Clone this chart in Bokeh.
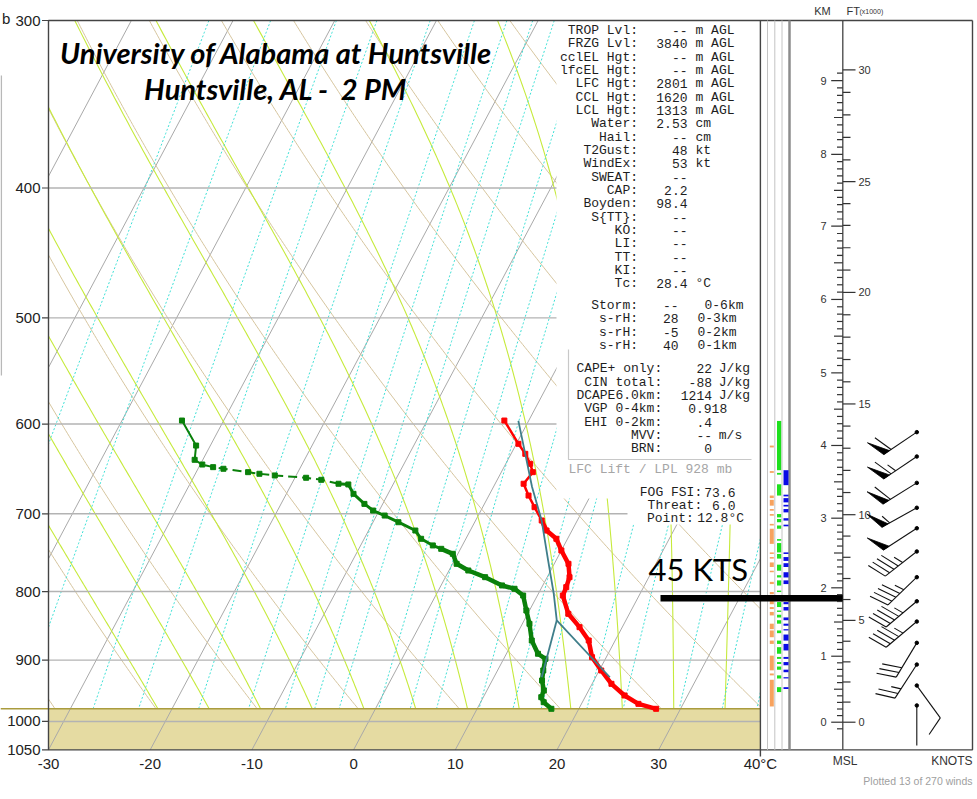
import numpy as np
from bokeh.plotting import figure
from bokeh.models import Range1d, LogScale
from bokeh.core.properties import value
from bokeh.embed import file_html
from bokeh.resources import INLINE

# ---------------- sounding data ----------------
temp_p = [978.5, 970.2, 956.4, 937.4, 916.2, 895.5, 870.2, 850.5, 831.2, 805.5, 794.0, 780.5, 762.8,
          745.5, 730.7, 720.4, 708.1, 692.1, 678.4, 664.8, 651.7, 642.4, 631.5, 620.7, 596.4]
temp_T = [27.6, 25.6, 23.8, 21.9, 20.2, 18.6, 17.4, 15.8, 14.0, 12.5, 12.4, 12.2, 11.4,
          10.0, 8.9, 7.5, 6.5, 5.1, 3.9, 2.8, 3.1, 2.4, 1.4, 0.2, -2.4]
dew_p = [978.5, 967.5, 959.2, 948.2, 932.1, 916.2, 898.0, 890.2, 870.2, 845.6, 826.5, 805.5, 796.2,
         791.7, 780.5, 771.6, 762.8, 749.8, 743.4, 739.1, 730.7, 720.4, 710.2, 702.1, 696.1, 688.2,
         676.4, 665.6, 664.8, 660.3, 658.0, 655.4, 653.5, 651.7, 647.9, 646.1, 643.2, 638.0, 622.6, 596.4]
dew_T = [17.3, 16.2, 15.7, 15.6, 14.9, 14.5, 14.1, 13.1, 11.8, 10.7, 9.7, 8.6, 7.4,
         6.0, 3.9, 1.9, 0.4, -0.5, -1.9, -2.9, -4.4, -5.4, -7.5, -9.2, -10.6, -11.8,
         -13.4, -14.4, -15.4, -17.3, -18.9, -22.1, -23.7, -24.9, -27.5, -28.6, -29.8, -30.8, -31.4, -34.1]
dew_gap = (643.2, 664.8)          # interpolated (dashed) part of the dewpoint trace
parcel_p = [926.9, 840.5, 802.7, 758.0, 708.2, 668.5, 631.6, 596.8]
parcel_T = [21.4, 13.2, 11.5, 9.2, 6.5, 3.8, 1.4, -1.0]
parcel_mix_p = [926.9, 840.5]
parcel_mix_T = [14.7, 13.2]
sfc_p = 978.5

wind_p = [608.4, 634.4, 663.8, 692.8, 717.6, 746.8, 780.5, 813.5, 842.3, 873.7, 906.9, 940.2, 972.9]
wind_dir = [236, 236, 238, 241, 237, 232, 226, 230, 230, 211, 213, 144, 180]
wind_spd = [60, 65, 60, 55, 50, 45, 45, 45, 45, 30, 25, 10, 2]

# ---------------- chart furniture ----------------
pressure_ticks = [300, 400, 500, 600, 700, 800, 900, 1000, 1050]
isobars = [400, 500, 600, 700, 800, 900, 1000]
temp_ticks = [-30, -20, -10, 0, 10, 20, 30, 40]
temp_tick_labels = ["-30", "-20", "-10", "0", "10", "20", "30", "40°C"]
isotherm_T = list(range(-70, 41, 10))
dry_theta_C = list(range(-30, 121, 10))
moist_T1000 = list(range(-20, 36, 5))
mix_ratio = [0.1, 0.2, 0.4, 0.6, 1, 1.5, 2, 2.5, 3, 4, 5, 6, 8, 10, 12, 16, 20, 28, 36, 44]

km_levels = [0, 1, 2, 3, 4, 5, 6, 7, 8, 9]
km_p = [1001.3, 894.0, 794.9, 705.3, 622.5, 549.5, 484.4, 427.1, 377.6, 332.6]
ft_major = [0, 5, 10, 15, 20, 25, 30]

orange_bands = [(622.6, 624.6), (650.5, 652.5), (678.4, 681.4), (683.4, 690.3), (694.3, 696.3), (700.3, 702.3),
                (712.2, 714.2), (718.2, 737.1), (748, 750), (754, 756), (761, 767), (771.9, 773.9),
                (786.8, 789.8), (800.7, 803.7), (812.6, 817.6), (821.6, 824.5), (828.5, 833.5), (845.4, 853.4),
                (855.3, 865.3), (870.3, 875.3), (893.1, 916), (920.9, 923.9), (930.9, 974.6)]
green_bands = [(596.8, 649.5), (652.5, 654.5), (665.4, 678.4), (700.3, 704.3), (706.3, 710.2), (714.2, 718.2),
               (731.1, 733.1), (736.1, 748), (750, 756), (763.9, 771.9), (777.9, 780.9), (784.8, 791.8),
               (798.7, 800.7), (814.6, 821.6), (826.5, 828.5), (832.5, 836.5), (840.4, 845.4), (855.3, 859.3),
               (870.3, 875.3), (880.2, 890.2), (895.1, 898.1), (903, 906), (910, 915), (923.9, 928.9), (942.8, 950.8)]
blue_bands = [(649.5, 666.4), (677.4, 679.4), (681.4, 686.4), (689.3, 691.3), (694.3, 698.3), (705.3, 708.2),
              (713.2, 715.2), (748, 750), (754, 759), (762, 767), (773.9, 780.9), (784.8, 789.8),
              (814.6, 817.6), (821.6, 826.5), (836.4, 840.4), (845.4, 848.4), (853.4, 855.3), (861.3, 870.3),
              (875.3, 885.2), (895.1, 898.1), (903, 908), (914.9, 918.9), (926.8, 928.8), (942.8, 945.8)]

idx_labels = ["TROP Lvl:", "FRZG Lvl:", "cclEL Hgt:", "lfcEL Hgt:", "LFC Hgt:", "CCL Hgt:", "LCL Hgt:",
              "Water:", "Hail:", "T2Gust:", "WindEx:", "SWEAT:", "CAP:", "Boyden:", "S{TT}:", "KO:",
              "LI:", "TT:", "KI:", "Tc:"]
idx_values = ["--", "3840", "--", "--", "2801", "1620", "1313", "2.53", "--", "48", "53", "--", "2.2",
              "98.4", "--", "--", "--", "--", "--", "28.4"]
idx_units = ["m AGL"] * 7 + ["cm", "cm", "kt", "kt", "", "", "", "", "", "", "", "", "°C"]
storm_labels = ["Storm:", "s-rH:", "s-rH:", "s-rH:"]
storm_values = ["--", "28", "-5", "40"]
storm_units = ["0-6km", "0-3km", "0-2km", "0-1km"]
cape_labels = ["CAPE+ only:", "CIN total:", "DCAPE6.0km:", "VGP 0-4km:", "EHI 0-2km:", "MVV:", "BRN:"]
cape_values = ["22", "-88", "1214", "0.918", ".4", "--", "0"]
cape_units = ["J/kg", "J/kg", "J/kg", "", "", "m/s", ""]
fog_labels = ["FOG FSI:", "Threat:", "Point:"]
fog_values = ["73.6", "6.0", "12.8°C"]

# ---------------- geometry ----------------
W, H, MARGIN = 975, 795, 0
PX_LEFT, PX_PER_DEG = 48.0, 10.17
PY_TOP, PX_PER_LN = 20.0, 582.2
SKEW = 30.45


def xd(px):
    return -30.0 + (px - PX_LEFT) / PX_PER_DEG


def pd(py):
    return 300.0 * np.exp((py - PY_TOP) / PX_PER_LN)


def ypx(pp):
    return PY_TOP + PX_PER_LN * np.log(pp / 300.0)


def skx(T, pp):
    return np.asarray(T, float) + SKEW * np.log(1050.0 / np.asarray(pp, float))


p = figure(width=W, height=H, x_range=Range1d(xd(MARGIN), xd(MARGIN + W)),
           y_range=Range1d(pd(MARGIN + H), pd(MARGIN)), y_axis_type="log",
           x_axis_location=None, y_axis_location=None, toolbar_location=None,
           output_backend="svg", min_border=0, title=None)
p.y_scale = LogScale()
p.outline_line_color = None
p.xgrid.visible = False
p.ygrid.visible = False
p.background_fill_color = "white"
p.border_fill_color = "white"


def lb(x0, y0, x1, y1, xmin, xmax, ymin, ymax):
    dx, dy = x1 - x0, y1 - y0
    t0, t1 = 0.0, 1.0
    for pp_, q in ((-dx, x0 - xmin), (dx, xmax - x0), (-dy, y0 - ymin), (dy, ymax - y0)):
        if pp_ == 0:
            if q < 0:
                return None
        else:
            r = q / pp_
            if pp_ < 0:
                t0 = max(t0, r)
            else:
                t1 = min(t1, r)
    if t0 > t1:
        return None
    return t0, t1, x0 + t0 * dx, y0 + t0 * dy, x0 + t1 * dx, y0 + t1 * dy


def clip_line(X, P, xmin, xmax, pmin, pmax):
    L = np.log(np.asarray(P, float))
    X = np.asarray(X, float)
    lmin, lmax = np.log(pmin), np.log(pmax)
    pieces, cur = [], None
    for i in range(len(X) - 1):
        r = lb(X[i], L[i], X[i + 1], L[i + 1], xmin, xmax, lmin, lmax)
        if r is None:
            if cur is not None:
                pieces.append(cur)
                cur = None
            continue
        t0, t1, ax, ay, bx, by = r
        if cur is None or t0 > 0:
            if cur is not None:
                pieces.append(cur)
            cur = ([ax], [ay])
        cur[0].append(bx)
        cur[1].append(by)
        if t1 < 1:
            pieces.append(cur)
            cur = None
    if cur is not None:
        pieces.append(cur)
    return [(list(a), list(np.exp(b))) for a, b in pieces if len(a) > 1]


def add_lines(lines, color, width=1.0, dash="solid", alpha=1.0):
    xs, ys = [], []
    for X, P in lines:
        xs.append(X)
        ys.append(P)
    if xs:
        p.multi_line(xs=xs, ys=ys, line_color=color, line_width=width, line_dash=dash, line_alpha=alpha)


# ground
p.quad(left=-30, right=40, top=sfc_p, bottom=1050, fill_color="#e5dba2", line_color=None)

Pd = np.geomspace(285, 1070, 260)
# isotherms
iso = []
for T in isotherm_T:
    iso += clip_line(skx(np.full(2, T), [285, 1070]), [285, 1070], -30, 40, 300, 1050)
add_lines(iso, "#a9a9a9", 1.0)

# dry adiabats
dry = []
for th in dry_theta_C:
    T = (th + 273.15) * (Pd / 1000.0) ** 0.2857 - 273.15
    dry += clip_line(skx(T, Pd), Pd, -30, 40, 300, sfc_p)
add_lines(dry, "#d6c59e", 1.0)


# moist adiabats (pseudo-adiabatic)
def dTdp(T, pp):
    Tc = T - 273.15
    es = 6.112 * np.exp(17.67 * Tc / (Tc + 243.5))
    rs = 0.622 * es / (pp - es)
    return (287.04 * T + 2.501e6 * rs) / (pp * (1005.7 + 2.501e6 ** 2 * rs * 0.622 / (287.04 * T * T)))


def integ(T0, p0, p1, dp):
    n = int(round(abs(p1 - p0) / abs(dp)))
    T = np.array(T0, float)
    pp = p0
    ps, Ts = [pp], [T.copy()]
    for _ in range(n):
        k1 = dTdp(T, pp)
        k2 = dTdp(T + 0.5 * dp * k1, pp + 0.5 * dp)
        k3 = dTdp(T + 0.5 * dp * k2, pp + 0.5 * dp)
        k4 = dTdp(T + dp * k3, pp + dp)
        T = T + dp * (k1 + 2 * k2 + 2 * k3 + k4) / 6.0
        pp += dp
        ps.append(pp)
        Ts.append(T.copy())
    return np.array(ps), np.array(Ts)


T0 = np.array(moist_T1000, float) + 273.15
pu, Tu = integ(T0, 1000.0, 285.0, -2.5)
pl, Tl = integ(T0, 1000.0, 1070.0, 2.5)
mp = np.concatenate([pl[::-1], pu[1:]])
mT = np.concatenate([Tl[::-1], Tu[1:]], axis=0)
moist = []
for j in range(len(moist_T1000)):
    moist += clip_line(skx(mT[:, j] - 273.15, mp), mp, -30, 40, 300, sfc_p)
add_lines(moist, "#c6ea3c", 1.1)

# mixing ratio lines
mix = []
for w in mix_ratio:
    e = w * Pd / (622.0 + w)
    lnr = np.log(e / 6.112)
    Td = 243.5 * lnr / (17.67 - lnr)
    mix += clip_line(skx(Td, Pd), Pd, -30, 40, 300, sfc_p)
add_lines(mix, "#3ee0d6", 1.0, dash="2 2")

# isobars
p.multi_line(xs=[[-30, 40] for _ in isobars], ys=[[b, b] for b in isobars], line_color="#b3b3b3", line_width=1.4)
# ground top line
p.line(x=[xd(0), 40], y=[sfc_p, sfc_p], line_color="#aa9c3e", line_width=1.5)

# white panels behind index text
p.quad(left=[xd(556), xd(627)], right=[xd(760), xd(760)], top=[pd(20), pd(484)], bottom=[pd(498), pd(524)],
       fill_color="white", line_color=None)
# CAPE box border
p.line(x=[xd(568), xd(568), xd(751)], y=[pd(349), pd(459), pd(459)], line_color="#c8c8c8", line_width=1.2)

# frame
XR = xd(972)
p.line(x=[XR, -30, -30, XR, XR], y=[300, 300, 1050, 1050, 300], line_color="#444444", line_width=1.4)
p.line(x=[40, 40], y=[300, pd(756)], line_color="#444444", line_width=1.4)
for xx in (767, 774.3, 781.5):
    p.line(x=[xd(xx), xd(xx)], y=[300, 1050], line_color="#c4c4c4", line_width=1.0)
p.line(x=[xd(789), xd(789)], y=[300, 1050], line_color="#8c8c8c", line_width=2.5)
p.line(x=[xd(842.3), xd(842.3)], y=[300, 1050], line_color="#444444", line_width=1.3)
# stray window-edge line seen in the reference
p.line(x=[xd(0.8), xd(0.8)], y=[pd(75), pd(375)], line_color="#b8b8b8", line_width=1.5)

# pressure ticks and labels
p.multi_line(xs=[[xd(41.5), -30] for _ in pressure_ticks], ys=[[v, v] for v in pressure_ticks],
             line_color="#444444", line_width=1.2)
p.text(x=[xd(40)] * len(pressure_ticks), y=pressure_ticks, text=[str(v) for v in pressure_ticks],
       text_font=value("Liberation Sans"), text_font_size="15px", text_color="#222222",
       text_align="right", text_baseline="middle")
p.text(x=temp_ticks, y=[pd(763)] * len(temp_ticks), text=temp_tick_labels,
       text_font=value("Liberation Sans"), text_font_size="15px", text_color="#222222",
       text_align="center", text_baseline="middle")

# strip bands
for bands, col, x0, x1 in ((orange_bands, "#f7a25e", 769.3, 773.3), (green_bands, "#1ee01e", 776.5, 780.7),
                           (blue_bands, "#0a0ae6", 783.0, 788.0)):
    p.quad(left=[xd(x0)] * len(bands), right=[xd(x1)] * len(bands), top=[a for a, b in bands],
           bottom=[b for a, b in bands], fill_color=col, line_color=None)

# ---------- profiles ----------
tx = skx(temp_T, temp_p)
tp_ = np.array(temp_p)
p.line(tx, tp_, line_color="#ff0000", line_width=2.5)
thick = tp_ >= 700
p.line(tx[thick], tp_[thick], line_color="#ff0000", line_width=4.5)
p.scatter(tx, tp_, marker="square", size=5, color="#ff0000")

dx_ = skx(dew_T, dew_p)
dp_ = np.array(dew_p)
lo = dp_ >= dew_gap[1]
hi = dp_ <= dew_gap[0]
gap = (dp_ >= dew_gap[0]) & (dp_ <= dew_gap[1])
p.line(dx_[lo], dp_[lo], line_color="#0a800a", line_width=3)
dthick = dp_ >= 740
p.line(dx_[dthick], dp_[dthick], line_color="#0a800a", line_width=4.5)
p.line(dx_[hi], dp_[hi], line_color="#0a800a", line_width=2)
p.line(dx_[gap], dp_[gap], line_color="#0a800a", line_width=2, line_dash="9 5")
p.scatter(dx_, dp_, marker="square", size=5, color="#0a800a")

p.line(skx(parcel_T, parcel_p), parcel_p, line_color="#3f7e8a", line_width=1.8)
p.line(skx(parcel_mix_T, parcel_mix_p), parcel_mix_p, line_color="#3f7e8a", line_width=1.8)


# ---------- text ----------
def put(px, py, txt, size=13, color="#1e1e1e", align="left", font="Liberation Mono", style="normal"):
    p.text(x=[xd(px)], y=[pd(py)], text=[txt], text_font=value(font), text_font_size=f"{size}px",
           text_color=color, text_align=align, text_baseline="middle", text_font_style=style)


for i, (lab, val, un) in enumerate(zip(idx_labels, idx_values, idx_units)):
    yy = 30 + 13.333 * i
    put(637.5, yy, lab, align="right")
    put(687, yy, val, align="right")
    if un:
        put(695, yy, un)
for i, (lab, val, un) in enumerate(zip(storm_labels, storm_values, storm_units)):
    yy = 305 + 13.333 * i
    put(637.5, yy, lab, align="right")
    put(678, yy, val, align="right")
    put(704 if i == 0 else 697, yy, un)
for i, (lab, val, un) in enumerate(zip(cape_labels, cape_values, cape_units)):
    yy = 368.3 + 13.333 * i
    put(661.7, yy, lab, align="right")
    put(726.7 if val == "0.918" else 711.5, yy, val, align="right")
    if un:
        put(718.3, yy, un)
put(568, 469.3, "LFC Lift / LPL 928 mb", color="#a6a6a6")
put(701.7, 491.7, fog_labels[0], align="right")
put(735, 491.7, fog_values[0], align="right")
put(701.7, 505, fog_labels[1], align="right")
put(735, 505, fog_values[1], align="right")
put(693.3, 518.3, fog_labels[2], align="right")
put(696.7, 518.3, fog_values[2])

put(276, 52, "University of Alabama at Huntsville", size=29, color="#000000", align="center",
    font="Lato", style="bold italic")
put(275.5, 88, "Huntsville, AL -\u00a0 2 PM", size=29, color="#000000", align="center",
    font="Lato", style="bold italic")
put(1.5, 18, "b", size=15, color="#222222", font="Liberation Sans")

# 45 KTS annotation
put(648, 568, "45 KTS", size=31, color="#000000", font="Lato")
p.quad(left=xd(660), right=xd(842.3), top=pd(594.5), bottom=pd(601), fill_color="#000000", line_color=None)

# ---------- altitude scale ----------
lnkm = np.log(km_p)


def z2p(z):
    if z < km_levels[0]:
        return float(np.exp(lnkm[0] + (lnkm[1] - lnkm[0]) * (z - km_levels[0])))
    if z > km_levels[-1]:
        return float(np.exp(lnkm[-1] + (lnkm[-1] - lnkm[-2]) * (z - km_levels[-1])))
    return float(np.exp(np.interp(z, km_levels, lnkm)))


AX = 842.3
txs, tys = [], []
for k in range(-1, 92):
    z = k / 10.0
    if k % 10 == 0:
        x0 = 830.7
    elif k % 5 == 0:
        x0 = 833.5
    else:
        x0 = 836.5
    pz = z2p(z)
    txs.append([xd(x0), xd(AX)])
    tys.append([pz, pz])
for kft in range(0, 31):
    pz = z2p(kft * 0.3048)
    txs.append([xd(AX), xd(855 if kft % 5 == 0 else 850)])
    tys.append([pz, pz])
p.multi_line(xs=txs, ys=tys, line_color="#333333", line_width=1.2)
p.text(x=[xd(826)] * len(km_levels), y=[z2p(z) for z in km_levels], text=[str(z) for z in km_levels],
       text_font=value("Liberation Sans"), text_font_size="11px", text_color="#333333",
       text_align="right", text_baseline="middle")
p.text(x=[xd(858)] * len(ft_major), y=[z2p(f * 0.3048) for f in ft_major], text=[str(f) for f in ft_major],
       text_font=value("Liberation Sans"), text_font_size="11px", text_color="#333333",
       text_align="left", text_baseline="middle")
put(822, 10, "KM", size=11, color="#333333", align="center", font="Liberation Sans")
put(846, 10, "FT", size=11, color="#333333", font="Liberation Sans")
put(859, 11, "(x1000)", size=7, color="#333333", font="Liberation Sans")
put(844.7, 760, "MSL", size=12, color="#333333", align="center", font="Liberation Sans")
put(972, 760, "KNOTS", size=12, color="#333333", align="right", font="Liberation Sans")
put(972, 780, "Plotted 13 of 270 winds", size=10.5, color="#a0a0a0", align="right", font="Liberation Sans")

# ---------- wind barbs ----------
STN = 916.3
STAFF, BARB, HALF, GAP, FLAG_W = 40.0, 20.0, 10.0, 5.5, 7.0
ANG = np.radians(70)
sx_, sy_, fx_, fy_ = [], [], [], []
for wp, wdir, ws in zip(wind_p, wind_dir, wind_spd):
    sx, sy = STN, ypx(wp)
    th = np.radians(wdir)
    ux, uy = np.sin(th), -np.cos(th)
    bx = ux * np.cos(ANG) - uy * np.sin(ANG)
    by = ux * np.sin(ANG) + uy * np.cos(ANG)
    ex, ey = sx + STAFF * ux, sy + STAFF * uy
    segs = [((sx, sy), (ex, ey))]
    n50 = ws // 50
    r = ws - 50 * n50
    n10 = r // 10
    n5 = 1 if r - 10 * n10 >= 5 else 0
    d = 0.0
    for _ in range(n50):
        cx, cy = ex - d * ux, ey - d * uy
        tri = [(cx, cy), (cx + BARB * bx, cy + BARB * by), (cx - FLAG_W * ux, cy - FLAG_W * uy)]
        fx_.append([xd(a) for a, b in tri])
        fy_.append([pd(b) for a, b in tri])
        d += FLAG_W + 2
    for _ in range(n10):
        cx, cy = ex - d * ux, ey - d * uy
        segs.append(((cx, cy), (cx + BARB * bx, cy + BARB * by)))
        d += GAP
    if n5:
        if n50 == 0 and n10 == 0:
            d = GAP
        cx, cy = ex - d * ux, ey - d * uy
        segs.append(((cx, cy), (cx + HALF * bx, cy + HALF * by)))
    for (a, b) in segs:
        sx_.append([xd(a[0]), xd(b[0])])
        sy_.append([pd(a[1]), pd(b[1])])
p.multi_line(xs=sx_, ys=sy_, line_color="#111111", line_width=1.1)
if fx_:
    p.patches(xs=fx_, ys=fy_, fill_color="#000000", line_color="#000000", line_width=0.8)
p.scatter(x=[xd(STN)] * len(wind_p), y=wind_p, size=3.5, color="#000000")

open("out.html", "w").write(file_html(p, INLINE))
